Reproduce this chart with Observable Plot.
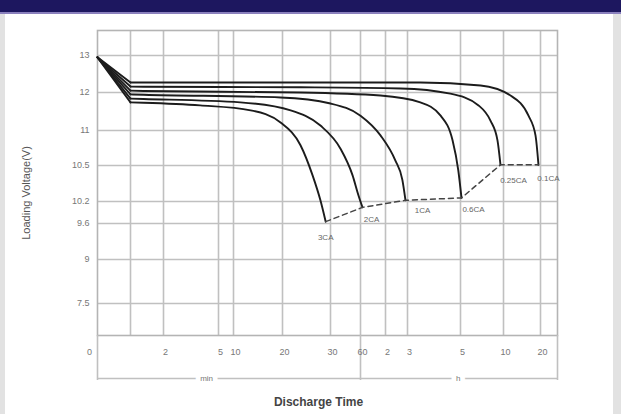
<!DOCTYPE html>
<html>
<head>
<meta charset="utf-8">
<script src="https://cdn.jsdelivr.net/npm/d3@7"></script>
<script src="https://cdn.jsdelivr.net/npm/@observablehq/plot@0.6"></script>
<style>
  html, body { margin: 0; padding: 0; background: #fff; }
  #wrap { position: relative; width: 621px; height: 414px; overflow: hidden; background: #fff; font-family: "Liberation Sans", Arial, sans-serif; }
  #chart { position: absolute; left: 0; top: 0; }
  .deco { position: absolute; }
</style>
</head>
<body>
<div id="wrap">
  <div id="chart"></div>
  <div class="deco" style="left:0;top:0;width:621px;height:12px;background:#1d175f"></div>
  <div class="deco" style="left:0;top:12px;width:621px;height:2px;background:#8a80bd"></div>
  <div class="deco" style="left:0;top:14px;width:5px;height:400px;background:#e2e2e2"></div>
  <div class="deco" style="left:613px;top:14px;width:8px;height:400px;background:#e2e2e2"></div>
</div>
<script>
// ---- data (time in minutes, voltage in volts) ----
const rateLabels = ["3CA", "2CA", "1CA", "0.6CA", "0.25CA", "0.1CA"];

const c1Time = [0, 1, 1.4, 4.0, 13.5, 19.6, 23.75, 26.25, 27.9, 29];
const c1Volt = [12.95, 11.74, 11.73, 11.66, 11.53, 11.21, 10.79, 10.42, 10.21, 9.65];
const c2Time = [0, 1, 1.4, 11.4, 21.7, 27.9, 40, 52, 58, 64.8];
const c2Volt = [12.95, 11.84, 11.83, 11.74, 11.53, 11.13, 10.74, 10.42, 10.25, 10.04];
const c3Time = [0, 1, 1.4, 19.6, 30, 60, 108, 147, 166, 174.5];
const c3Volt = [12.95, 11.95, 11.94, 11.87, 11.71, 11.39, 10.93, 10.57, 10.38, 10.21];
const c4Time = [0, 1, 1.4, 23.75, 108, 209, 255, 282, 295, 307];
const c4Volt = [12.95, 12.05, 12.04, 12.0, 11.92, 11.74, 11.39, 10.86, 10.46, 10.23];
const c5Time = [0, 1, 1.4, 23.75, 161, 277, 426, 509, 558, 579];
const c5Volt = [12.95, 12.16, 12.155, 12.14, 12.11, 11.97, 11.66, 11.26, 10.86, 10.51];
const c6Time = [0, 1, 1.4, 23.75, 209, 440, 713, 1005, 1119, 1167];
const c6Volt = [12.95, 12.27, 12.27, 12.27, 12.27, 12.19, 11.92, 11.39, 10.93, 10.51];

const xTickVals = [0, 2, 5, 10, 20, 30, 60, 120, 180, 300, 600, 1200];
const xTickText = ["0", "2", "5", "10", "20", "30", "60", "2", "3", "5", "10", "20"];
const xGridVals = [1, 2, 5, 10, 20, 30, 60, 120, 180, 300, 600, 1200];
const yTickVals = [13, 12, 11, 10.5, 10.2, 9.6, 9, 7.5];
const yTickText = ["13", "12", "11", "10.5", "10.2", "9.6", "9", "7.5"];
const unitLabels = ["min", "h"];
const unitPos = [4.35, 295];

// ---- scale configuration (hand-drawn, uneven axis) ----
const xBreaks = [0, 1, 2, 5, 10, 20, 30, 60, 120, 180, 300, 600, 1200, 1500];
const xPixels = [97, 130, 163, 218, 233, 282, 330, 360, 385, 407, 460, 503, 540, 557];
const yBreaks = [6.4, 7.5, 9, 9.6, 10.2, 10.5, 11, 12, 13, 13.68];
const yPixels = [335, 303, 259, 223, 201, 165, 130, 92, 55, 30];

const curves = [
  [c1Time, c1Volt], [c2Time, c2Volt], [c3Time, c3Volt],
  [c4Time, c4Volt], [c5Time, c5Volt], [c6Time, c6Volt]
];
const rows = curves.flatMap(([ts, vs], k) => ts.map((t, i) => ({rate: rateLabels[k], t, v: vs[i]})));
const ends = curves.map(([ts, vs], k) => ({rate: rateLabels[k], t: ts[ts.length - 1], v: vs[vs.length - 1]}));
const labelDx = [0, 9, 17, 12, 13, 10];
const labelDy = [16, 12, 10, 12, 16, 14];

const grid = "#c0c0c0";
const xMin = xBreaks[0], xMax = xBreaks[xBreaks.length - 1], yMin = yBreaks[0];
const tickFill = "#777";
const curveStroke = "#1c1c1c";

const chart = Plot.plot({
  width: 621,
  height: 414,
  marginLeft: 97,
  marginRight: 64,
  marginTop: 30,
  marginBottom: 79,
  style: {fontFamily: "'Liberation Sans', Arial, sans-serif", background: "transparent"},
  x: {type: "linear", domain: xBreaks, range: xPixels, axis: null},
  y: {type: "linear", domain: yBreaks, range: yPixels, axis: null},
  marks: [
    Plot.ruleX(xGridVals, {stroke: grid, strokeWidth: 1.6}),
    Plot.ruleY(yTickVals, {stroke: grid, strokeWidth: 1.6}),
    Plot.frame({stroke: "#b4b4b4", strokeWidth: 1.6}),
    // min / h bracket below the axis
    Plot.ruleX([xMin, 60, xMax], {stroke: grid, strokeWidth: 1.6, insetTop: 305, insetBottom: -45}),
    Plot.ruleY([yMin], {x1: xMin, x2: xMax, dy: 43, stroke: grid, strokeWidth: 1.6}),
    Plot.text(unitLabels, {x: (d, i) => unitPos[i], y: yMin, dy: 43, text: d => d, fill: tickFill, stroke: "white", strokeWidth: 10, fontSize: 8}),
    // discharge curves: initial straight drop, then smooth discharge
    Plot.line(rows.filter(d => d.t <= 1), {x: "t", y: "v", z: "rate", stroke: curveStroke, strokeWidth: 1.9}),
    Plot.line(rows.filter(d => d.t >= 1), {x: "t", y: "v", z: "rate", stroke: curveStroke, strokeWidth: 1.9, curve: "monotone-x"}),
    // final voltage locus
    Plot.line(ends, {x: "t", y: "v", stroke: "#444", strokeWidth: 1.5, strokeDasharray: "5,4"}),
    ...ends.map((e, i) => Plot.text([e], {x: "t", y: "v", text: "rate", dx: labelDx[i], dy: labelDy[i], fill: "#666", fontSize: 8})),
    // tick labels
    Plot.text(yTickVals, {x: xMin, y: d => d, text: (d, i) => yTickText[i], dx: -8, textAnchor: "end", fill: tickFill, fontSize: 9}),
    Plot.text(xTickVals.slice(0, 1), {x: d => d, y: yMin, text: (d, i) => xTickText[i], dx: -8, dy: 17, fill: tickFill, fontSize: 9}),
    Plot.text(xTickVals.slice(1), {x: d => d, y: yMin, text: (d, i) => xTickText[i + 1], dx: 2, dy: 17, fill: tickFill, fontSize: 9}),
    // axis titles
    Plot.text(["Discharge Time"], {frameAnchor: "bottom", dx: -9, dy: 67, lineAnchor: "middle", fontSize: 12, fontWeight: "bold", fill: "#444"}),
    Plot.text(["Loading Voltage(V)"], {frameAnchor: "left", textAnchor: "middle", dx: -71, dy: 10, rotate: -90, fontSize: 11, fill: "#555"})
  ]
});
document.getElementById("chart").appendChild(chart);
</script>
</body>
</html>
